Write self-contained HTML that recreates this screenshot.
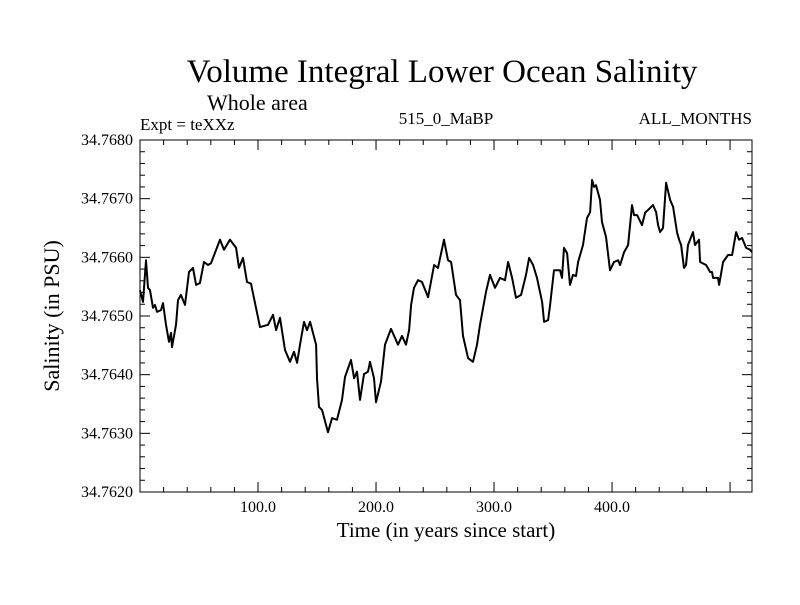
<!DOCTYPE html>
<html><head><meta charset="utf-8"><style>
body{margin:0;background:#fff}
svg text{font-family:"Liberation Serif",serif;fill:#000}
</style></head><body>
<svg id="c" width="800" height="600">
<text x="442" y="82" font-size="33" text-anchor="middle">Volume Integral Lower Ocean Salinity</text>
<text x="207" y="110" font-size="22">Whole area</text>
<text x="140" y="130" font-size="17">Expt = teXXz</text>
<text x="446" y="124" font-size="17" text-anchor="middle">515_0_MaBP</text>
<text x="752" y="124" font-size="17" text-anchor="end">ALL_MONTHS</text>
<text x="446" y="537" font-size="21" text-anchor="middle">Time (in years since start)</text>
<text x="0" y="0" font-size="22" text-anchor="middle" transform="translate(59,316) rotate(-90)">Salinity (in PSU)</text>
<rect x="140" y="140" width="612" height="352" fill="none" stroke="#000" stroke-width="1"/>
<g id="axes"></g>
<g id="series"></g>
</svg>
<script>
const years=[0,2.5,5.1,6.8,8.5,11.0,12.7,14.4,17.8,19.5,22.0,24.6,26.3,27.1,30.5,32.2,34.7,38.1,41.5,44.9,47.5,50.8,54.2,57.6,60.2,67.8,71.2,76.3,81.4,83.9,87.3,90.7,94.1,101.7,108.5,112.7,115.3,118.6,122.9,127.1,130.5,133.1,135.6,139.0,141.5,144.1,149.2,150.0,151.7,154.2,159.3,162.7,166.9,171.2,173.7,178.8,181.4,183.9,186.4,189.8,193.2,194.9,198.3,200.0,204.2,207.6,212.7,218.6,222.0,225.4,228.0,229.7,232.2,235.6,239.0,244.1,249.2,252.5,257.6,261.0,263.6,267.8,271.2,273.7,278.0,282.2,285.6,288.1,293.2,296.6,300.8,305.1,309.3,311.9,315.3,318.6,322.9,327.1,329.7,333.1,336.4,340.7,342.4,345.8,347.5,350.8,355.9,357.6,359.3,361.9,364.4,366.9,369.5,371.2,375.4,378.8,381.4,383.1,384.7,386.4,389.8,391.5,394.9,398.3,401.7,405.1,406.8,410.2,413.6,416.9,418.6,421.2,425.4,428.0,432.2,434.7,437.3,439.0,440.7,443.2,445.8,449.2,451.7,455.1,456.8,458.5,461.0,462.7,464.4,468.6,470.3,473.7,474.6,479.7,483.1,484.7,485.6,489.8,490.7,494.1,498.3,501.7,505.1,507.6,510.2,513.6,516.9,518.6];
const salinity=[34.76544,34.76524,34.76595,34.76548,34.76544,34.76514,34.76519,34.76507,34.76510,34.76522,34.76485,34.76456,34.76471,34.76447,34.76485,34.76527,34.76536,34.76519,34.76575,34.76582,34.76553,34.76556,34.76592,34.76587,34.76590,34.76630,34.76613,34.76630,34.76616,34.76582,34.76599,34.76558,34.76555,34.76481,34.76485,34.76502,34.76476,34.76497,34.76442,34.76422,34.76439,34.76420,34.76451,34.76490,34.76476,34.76490,34.76451,34.76394,34.76345,34.76340,34.76302,34.76326,34.76323,34.76357,34.76396,34.76425,34.76394,34.76405,34.76357,34.76401,34.76405,34.76422,34.76394,34.76353,34.76388,34.76451,34.76478,34.76451,34.76466,34.76451,34.76476,34.76519,34.76548,34.76561,34.76558,34.76532,34.76587,34.76582,34.76630,34.76595,34.76592,34.76536,34.76527,34.76466,34.76428,34.76422,34.76451,34.76485,34.76541,34.76570,34.76548,34.76565,34.76561,34.76592,34.76565,34.76531,34.76536,34.76570,34.76599,34.76587,34.76565,34.76524,34.76490,34.76493,34.76519,34.76578,34.76578,34.76565,34.76616,34.76607,34.76553,34.76570,34.76568,34.76592,34.76621,34.76667,34.76677,34.76732,34.76720,34.76723,34.76698,34.76660,34.76635,34.76578,34.76592,34.76595,34.76587,34.76609,34.76621,34.76689,34.76672,34.76672,34.76655,34.76676,34.76684,34.76689,34.76677,34.76655,34.76643,34.76650,34.76727,34.76698,34.76686,34.76642,34.76630,34.76621,34.76582,34.76587,34.76621,34.76643,34.76621,34.76630,34.76592,34.76587,34.76575,34.76575,34.76565,34.76565,34.76553,34.76592,34.76604,34.76604,34.76643,34.76630,34.76633,34.76616,34.76613,34.76609];
const xTicks=[100,200,300,400];
const xTickLabels=["100.0","200.0","300.0","400.0"];
const yTicks=[34.762,34.763,34.764,34.765,34.766,34.767,34.768];
const yTickLabels=["34.7620","34.7630","34.7640","34.7650","34.7660","34.7670","34.7680"];
const X0=140,X1=752,Y0=492,Y1=140,XMIN=0,XMAX=518.6,YMIN=34.762,YMAX=34.768;
function sx(v){return X0+(v-XMIN)/(XMAX-XMIN)*(X1-X0);}
function sy(v){return Y0-(v-YMIN)/(YMAX-YMIN)*(Y0-Y1);}
const NS="http://www.w3.org/2000/svg";
const ax=document.getElementById('axes');
function line(x1,y1,x2,y2,name){const l=document.createElementNS(NS,'line');l.setAttribute('x1',x1);l.setAttribute('y1',y1);l.setAttribute('x2',x2);l.setAttribute('y2',y2);l.setAttribute('stroke','#000');l.setAttribute('stroke-width','1');


ax.appendChild(l);}
function text(x,y,s,anchor,name){const t=document.createElementNS(NS,'text');t.setAttribute('x',x);t.setAttribute('y',y);t.setAttribute('font-size','16');t.setAttribute('text-anchor',anchor);t.textContent=s;


ax.appendChild(t);}
for(let v=20;v<XMAX;v+=20){const x=sx(v);const major=v%100===0;const L=major?10:5;line(x,Y0,x,Y0-L,'x-tick');line(x,Y1,x,Y1+L,'x-tick-top');}
xTicks.forEach((v,i)=>text(sx(v),512,xTickLabels[i],'middle','x-tick-label'));
for(let k=0;k<=30;k++){const v=YMIN+k*0.0002;const y=sy(v);const major=k%5===0;const L=major?10:5;line(X0,y,X0+L,y,'y-tick');line(X1,y,X1-L,y,'y-tick-right');}
yTicks.forEach((v,i)=>text(133,sy(v)+5,yTickLabels[i],'end','y-tick-label'));
const p=document.createElementNS(NS,'polyline');
p.setAttribute('points',years.map((y,i)=>sx(y).toFixed(1)+','+sy(salinity[i]).toFixed(1)).join(' '));
p.setAttribute('fill','none');p.setAttribute('stroke','#000');p.setAttribute('stroke-width','2');p.setAttribute('stroke-linejoin','round');


document.getElementById('series').appendChild(p);
</script>
</body></html>
